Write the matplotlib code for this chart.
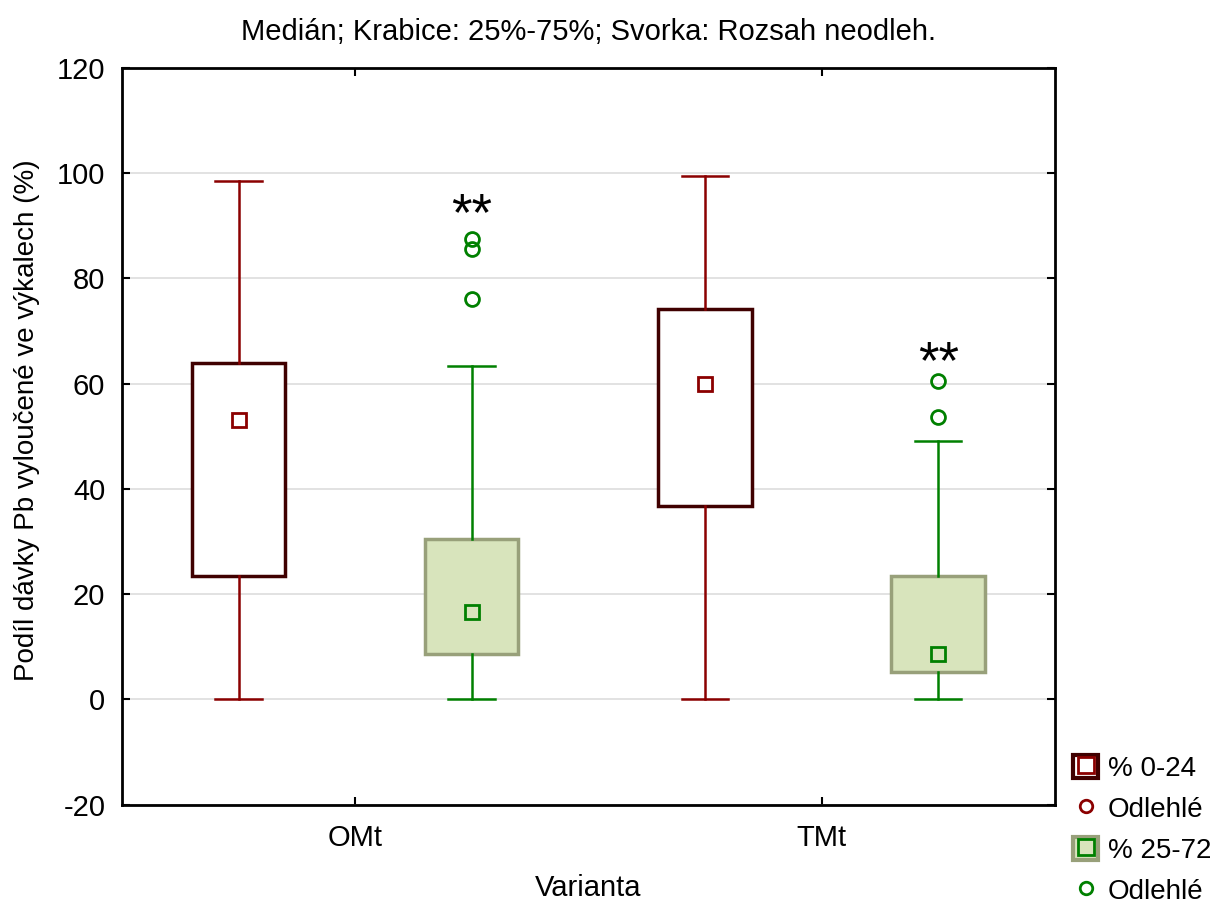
import matplotlib
matplotlib.use("Agg")
import matplotlib.pyplot as plt
from matplotlib.patches import Patch
from matplotlib.lines import Line2D
from matplotlib.legend_handler import HandlerTuple

plt.rcParams['font.family'] = ['Liberation Sans', 'DejaVu Sans']
plt.rcParams['axes.unicode_minus'] = False

# data
categories = ['OMt', 'TMt']
red_med = [53.0, 59.9]
red_q1 = [23.4, 36.7]
red_q3 = [64.0, 74.1]
red_lo = [0.0, 0.0]
red_hi = [98.5, 99.4]
red_out = [[], []]

green_med = [16.5, 8.6]
green_q1 = [8.7, 5.1]
green_q3 = [30.4, 23.4]
green_lo = [0.0, 0.0]
green_hi = [63.3, 49.0]
green_out = [[87.5, 85.5, 76.0], [60.5, 53.6]]
star_y = [91.8, 63.8]

RED = '#8B0000'
RED_EDGE = '#400000'
GREEN = '#008000'
GREEN_FILL = '#D8E4BC'
GREEN_EDGE = '#98A07A'


def make_stats(med, q1, q3, lo, hi, out):
    return [dict(med=med[i], q1=q1[i], q3=q3[i], whislo=lo[i], whishi=hi[i],
                 fliers=out[i]) for i in range(len(med))]


fig, ax = plt.subplots(figsize=(12.25, 9.05), dpi=100)
fig.subplots_adjust(left=0.0996, right=0.861, top=0.925, bottom=0.111)

x = range(len(categories))
pos_r = [i - 0.25 for i in x]
pos_g = [i + 0.25 for i in x]

ax.bxp(make_stats(red_med, red_q1, red_q3, red_lo, red_hi, red_out), positions=pos_r,
       widths=0.2, patch_artist=True, showfliers=False,
       boxprops=dict(facecolor='white', edgecolor=RED_EDGE, linewidth=2.5),
       whiskerprops=dict(color=RED, linewidth=1.8),
       capprops=dict(color=RED, linewidth=1.8), capwidths=0.1,
       medianprops=dict(linewidth=0))
ax.bxp(make_stats(green_med, green_q1, green_q3, green_lo, green_hi, green_out), positions=pos_g,
       widths=0.2, patch_artist=True,
       boxprops=dict(facecolor=GREEN_FILL, edgecolor=GREEN_EDGE, linewidth=2.5),
       whiskerprops=dict(color=GREEN, linewidth=1.8),
       capprops=dict(color=GREEN, linewidth=1.8), capwidths=0.1,
       medianprops=dict(linewidth=0),
       flierprops=dict(marker='o', markerfacecolor='none', markeredgecolor=GREEN,
                       markersize=10, markeredgewidth=2))

ax.plot(pos_r, red_med, 's', ms=10, mfc='none', mec=RED, mew=2, zorder=5)
ax.plot(pos_g, green_med, 's', ms=10, mfc='none', mec=GREEN, mew=2, zorder=5)

for p, s in zip(pos_g, star_y):
    ax.text(p, s, '**', ha='center', va='center', fontsize=38)

ax.set_xlim(-0.5, 1.5)
ax.set_ylim(-20, 120)
ax.set_xticks(list(x))
ax.set_xticklabels(categories)
ax.set_yticks(range(-20, 121, 20))
ax.yaxis.grid(True, color='#dddddd', linewidth=1.2)
ax.set_axisbelow(True)
ax.tick_params(direction='in', length=6, width=1.5, labelsize=21, top=True, right=True)
ax.tick_params(axis='x', pad=14)
ax.tick_params(axis='y', pad=12)
for sp in ax.spines.values():
    sp.set_linewidth(2)

ax.set_xlabel('Varianta', fontsize=21, labelpad=16)
ax.set_ylabel('Podíl dávky Pb vyloučené ve výkalech (%)', fontsize=20)
ax.yaxis.set_label_coords(-0.088, 0.522)
ax.set_title('Medián; Krabice: 25%-75%; Svorka: Rozsah neodleh.', fontsize=21, pad=20)

h_red = (Patch(facecolor='white', edgecolor=RED_EDGE, linewidth=3),
         Line2D([], [], marker='s', ls='none', ms=11, mfc='none', mec=RED, mew=2))
h_red_out = Line2D([], [], marker='o', ls='none', ms=9, mfc='none', mec=RED, mew=2)
h_green = (Patch(facecolor=GREEN_FILL, edgecolor=GREEN_EDGE, linewidth=3),
           Line2D([], [], marker='s', ls='none', ms=11, mfc='none', mec=GREEN, mew=2))
h_green_out = Line2D([], [], marker='o', ls='none', ms=9, mfc='none', mec=GREEN, mew=2)

fig.legend([h_red, h_red_out, h_green, h_green_out],
           ['% 0-24', 'Odlehlé', '% 25-72', 'Odlehlé'],
           handler_map={tuple: HandlerTuple(ndivide=1)},
           loc='lower left', bbox_to_anchor=(0.876, 0.0), frameon=False,
           borderpad=0, borderaxespad=0,
           fontsize=20, handlelength=0.9, handleheight=0.9, handletextpad=0.35,
           labelspacing=0.5)

fig.savefig('out.png', dpi=100)
